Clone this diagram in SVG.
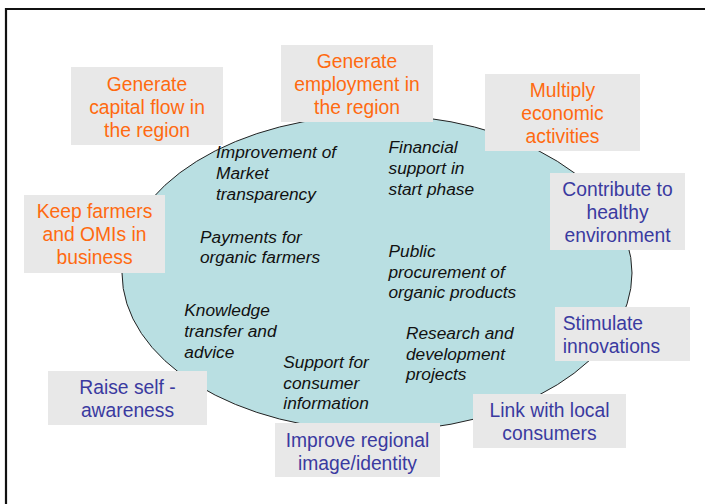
<svg xmlns="http://www.w3.org/2000/svg" width="705" height="504" viewBox="0 0 705 504">
<style>
.box{fill:#e8e8e8}
.t{font-family:"Liberation Sans",Arial,sans-serif;font-size:19.3px}
.o{fill:#ff6a10}
.b{fill:#3a3aa0}
.c{text-anchor:middle}
.i{font-family:"Liberation Sans",Arial,sans-serif;font-size:17.3px;font-style:italic;fill:#111}
</style>
<rect x="0" y="0" width="705" height="504" fill="#fff"/>
<path d="M6,504 V9 H705" fill="none" stroke="#111" stroke-width="2.2"/>
<g id="center">
<ellipse cx="377" cy="273" rx="255" ry="158" fill="#b9dfe2" stroke="#222" stroke-width="1"/>
<text class="i" x="216" y="157.7">Improvement of</text>
<text class="i" x="216" y="179">Market</text>
<text class="i" x="216" y="199.5">transparency</text>
<text class="i" x="200" y="242.5">Payments for</text>
<text class="i" x="200" y="263.3">organic farmers</text>
<text class="i" x="388.5" y="152.7">Financial</text>
<text class="i" x="388.5" y="173.8">support in</text>
<text class="i" x="388.5" y="194.5">start phase</text>
<text class="i" x="388.5" y="256.7">Public</text>
<text class="i" x="388.5" y="277.7">procurement of</text>
<text class="i" x="388.5" y="298.3">organic products</text>
<text class="i" x="184.3" y="315.7">Knowledge</text>
<text class="i" x="184.3" y="336.7">transfer and</text>
<text class="i" x="184.3" y="357.5">advice</text>
<text class="i" x="283.3" y="367.7">Support for</text>
<text class="i" x="283.3" y="388.7">consumer</text>
<text class="i" x="283.3" y="409.3">information</text>
<text class="i" x="406" y="339">Research and</text>
<text class="i" x="406" y="359.7">development</text>
<text class="i" x="406" y="380.3">projects</text>
</g>
<g id="capital">
<rect class="box" x="71" y="67" width="152" height="78"/>
<text class="t o c" x="147" y="90.5">Generate</text>
<text class="t o c" x="147" y="113.7">capital flow in</text>
<text class="t o c" x="147" y="136.8">the region</text>
</g>
<g id="employment">
<rect class="box" x="281" y="45" width="152" height="77"/>
<text class="t o c" x="357" y="67.7">Generate</text>
<text class="t o c" x="357" y="91">employment in</text>
<text class="t o c" x="357" y="114.3">the region</text>
</g>
<g id="multiply">
<rect class="box" x="485" y="74" width="155" height="77"/>
<text class="t o c" x="562.5" y="96.7">Multiply</text>
<text class="t o c" x="562.5" y="120">economic</text>
<text class="t o c" x="562.5" y="142.5">activities</text>
</g>
<g id="healthy">
<rect class="box" x="550" y="173" width="135" height="77"/>
<text class="t b c" x="617.5" y="195.5">Contribute to</text>
<text class="t b c" x="617.5" y="218.7">healthy</text>
<text class="t b c" x="617.5" y="241.7">environment</text>
</g>
<g id="keep">
<rect class="box" x="24" y="195" width="141" height="78"/>
<text class="t o c" x="94.5" y="218">Keep farmers</text>
<text class="t o c" x="94.5" y="241">and OMIs in</text>
<text class="t o c" x="94.5" y="264">business</text>
</g>
<g id="raise">
<rect class="box" x="48" y="371" width="159" height="54"/>
<text class="t b c" x="127.5" y="394">Raise self -</text>
<text class="t b c" x="127.5" y="416.7">awareness</text>
</g>
<g id="image">
<rect class="box" x="275" y="423" width="165" height="54"/>
<text class="t b c" x="357.5" y="446.7">Improve regional</text>
<text class="t b c" x="357.5" y="469.5">image/identity</text>
</g>
<g id="link">
<rect class="box" x="473" y="394" width="153" height="54"/>
<text class="t b c" x="549.5" y="417">Link with local</text>
<text class="t b c" x="549.5" y="440">consumers</text>
</g>
<g id="stimulate">
<rect class="box" x="555" y="307" width="135" height="54"/>
<text class="t b" x="562.7" y="330">Stimulate</text>
<text class="t b" x="562.7" y="353">innovations</text>
</g>
<g id="connectors"></g>
</svg>
